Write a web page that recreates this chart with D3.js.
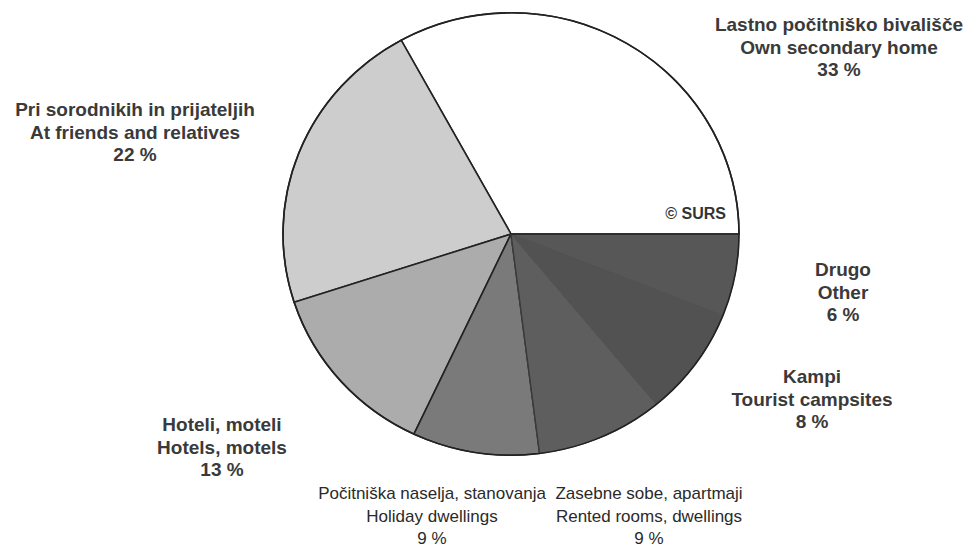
<!DOCTYPE html>
<html>
<head>
<meta charset="utf-8">
<script src="https://cdn.jsdelivr.net/npm/d3@7"></script>
<style>
  body { margin: 0; background: #fff; }
  svg text { font-family: "Liberation Sans", Arial, sans-serif; fill: #333; }
</style>
</head>
<body>
<svg id="chart" width="970" height="545"></svg>
<script>
// shares, counterclockwise from 3 o'clock
const labelsSl = ["Lastno počitniško bivališče", "Pri sorodnikih in prijateljih", "Hoteli, moteli",
  "Počitniška naselja, stanovanja", "Zasebne sobe, apartmaji", "Kampi", "Drugo"];
const labelsEn = ["Own secondary home", "At friends and relatives", "Hotels, motels",
  "Holiday dwellings", "Rented rooms, dwellings", "Tourist campsites", "Other"];
const shares = [33, 22, 13, 9, 9, 8, 6];
const fills = ["#ffffff", "#cdcdcd", "#acacac", "#7a7a7a", "#5e5e5e", "#525252", "#575757"];
// label anchor spots (centre x, first baseline) and whether the print is heavy
const labelPos = [[839, 31], [135, 116], [222, 431], [432, 499], [649, 499], [812, 383], [843, 276]];
const heavy = [true, true, true, false, false, true, true];

const svg = d3.select("#chart");
const cx = 511, cy = 234, r = 228;

const pie = d3.pie().sort(null).value(d => d)
  .startAngle(Math.PI / 2).endAngle(Math.PI / 2 - 2 * Math.PI);
const arc = d3.arc().innerRadius(0).outerRadius(r);
const arcs = pie(shares);

const g = svg.append("g").attr("transform", `translate(${cx},${cy}) scale(1,0.97)`);

g.selectAll("path")
  .data(arcs)
  .enter().append("path")
  .attr("d", arc)
  .attr("fill", (d, i) => fills[i])
  .attr("stroke", (d, i) => i >= 4 ? "#505050" : "#222")
  .attr("stroke-width", (d, i) => i >= 4 ? 1 : 1.6)
  .attr("stroke-linejoin", "round");

// edge between holiday dwellings and rented rooms is a bit lighter in print
const cut = arcs[3].endAngle;
g.append("line")
  .attr("x1", 0).attr("y1", 0)
  .attr("x2", r * Math.sin(cut)).attr("y2", -r * Math.cos(cut))
  .attr("stroke", "#3a3a3a").attr("stroke-width", 1.2);

// outer rim drawn on top so it stays dark everywhere
g.append("circle").attr("r", r).attr("fill", "none").attr("stroke", "#222").attr("stroke-width", 1.6);
// the boundary between white and dark at 3 o'clock
g.append("line").attr("x1", 0).attr("y1", 0).attr("x2", r).attr("y2", 0)
  .attr("stroke", "#222").attr("stroke-width", 1.6);

svg.append("text")
  .attr("x", 726).attr("y", 219)
  .attr("text-anchor", "end")
  .style("font-size", "16px").style("font-weight", "bold")
  .text("© SURS");

const lab = svg.append("g");
shares.forEach((v, i) => {
  const [x, y] = labelPos[i];
  const lines = [labelsSl[i], labelsEn[i], `${v} %`];
  lines.forEach((t, j) => {
    lab.append("text")
      .attr("x", x)
      .attr("y", y + j * 22.5)
      .attr("text-anchor", "middle")
      .style("font-size", heavy[i] ? "19px" : "17px")
      .style("font-weight", heavy[i] ? "bold" : "normal")
      .style("fill", heavy[i] ? "#3a3a3a" : "#2a2a2a")
      .text(t);
  });
});
</script>
</body>
</html>
